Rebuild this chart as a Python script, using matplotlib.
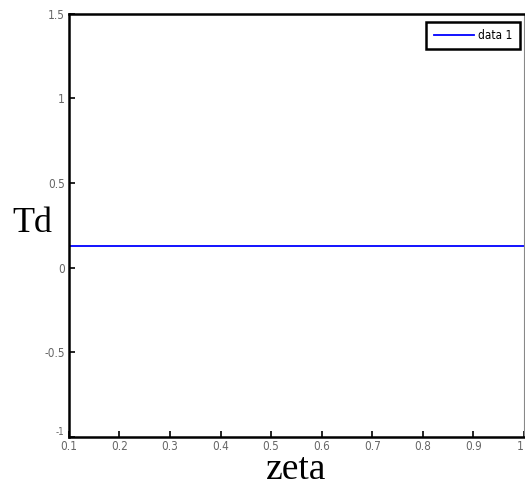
import numpy as np
import matplotlib.pyplot as plt
from matplotlib.font_manager import FontProperties

# Td over zeta (constant value)
zeta = [0.1, 1.0]
Td = [0.13, 0.13]

xticks = [0.1, 0.2, 0.3, 0.4, 0.5, 0.6, 0.7, 0.8, 0.9, 1]
xtick_labels = ['0.1', '0.2', '0.3', '0.4', '0.5', '0.6', '0.7', '0.8', '0.9', '1']
yticks = [-1, -0.5, 0, 0.5, 1, 1.5]
ytick_labels = ['-1', '-0.5', '0', '0.5', '1', '1.5']

small = FontProperties(family='DejaVu Sans', stretch='condensed', size=8.5)

fig = plt.figure(figsize=(5.25, 4.92), dpi=100)
ax = fig.add_axes([0.131, 0.112, 0.867, 0.86])

ax.plot(zeta, Td, color='#0000ff', linewidth=1.3, label='data 1')

ax.set_xlim(0.1, 1)
ax.set_ylim(-1, 1.5)
ax.set_xticks(xticks)
ax.set_xticklabels(xtick_labels, fontproperties=small)
ax.set_yticks(yticks)
ax.set_yticklabels(ytick_labels, fontproperties=small)
ax.tick_params(direction='in', length=4, width=1.2, labelcolor='#666666')
ax.tick_params(axis='x', pad=2)
ax.tick_params(axis='y', pad=3)

# corner labels sit a bit off the axis
xl = ax.get_xticklabels()
xl[-1].set_horizontalalignment('right')
yl = ax.get_yticklabels()
yl[0].set_verticalalignment('bottom')
yl[0].set_fontsize(7)

for side in ['left', 'bottom', 'top']:
    ax.spines[side].set_linewidth(1.8)
ax.spines['right'].set_linewidth(0.8)
ax.spines['right'].set_color('#888888')

ax.set_xlabel('zeta', family='Liberation Serif', fontsize=27, labelpad=0)
ax.set_ylabel('Td', family='Liberation Serif', fontsize=26, rotation=0)
ax.yaxis.set_label_coords(-0.08, 0.505)
ax.yaxis.label.set_verticalalignment('center')

leg = ax.legend(loc='upper right', bbox_to_anchor=(0.991, 0.981),
                borderaxespad=0, fancybox=False, framealpha=1,
                handlelength=3.4, handletextpad=0.4, borderpad=0.6,
                prop=FontProperties(family='DejaVu Sans', stretch='condensed',
                                    size=8.5))
leg.get_frame().set_edgecolor('black')
leg.get_frame().set_linewidth(1.8)

fig.savefig('out.png', dpi=100)
